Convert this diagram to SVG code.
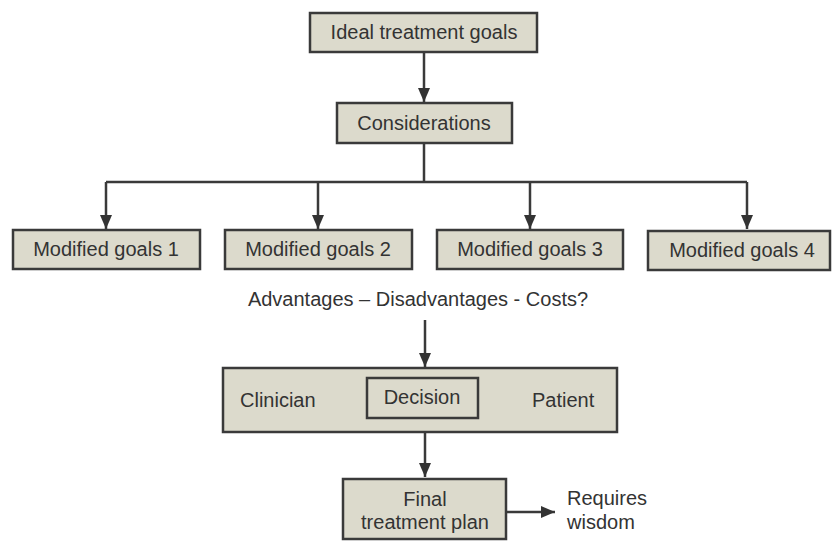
<svg xmlns="http://www.w3.org/2000/svg" width="832" height="541" viewBox="0 0 832 541">
<style>
.box{fill:#dcdacc;stroke:#3a3a3a;stroke-width:2.5}
.inner{fill:none;stroke:#3a3a3a;stroke-width:2.5}
.t{font-family:"Liberation Sans",Arial,sans-serif;font-size:20px;fill:#333}
.c{text-anchor:middle}
.ln{fill:none;stroke:#3a3a3a;stroke-width:2.5}
</style>
<defs>
<marker id="ah" viewBox="0 0 14 12" refX="14" refY="6" markerWidth="14" markerHeight="12" markerUnits="userSpaceOnUse" orient="auto">
<path d="M0,0 L14,6 L0,12 z" fill="#333"/>
</marker>
</defs>
<rect width="832" height="541" fill="#fff"/>
<g id="connectors">
<line class="ln" x1="424" y1="52" x2="424" y2="102" marker-end="url(#ah)"/>
<polyline class="ln" points="424,143 424,182"/>
<polyline class="ln" points="106,182 747,182"/>
<line class="ln" x1="106" y1="182" x2="106" y2="229" marker-end="url(#ah)"/>
<line class="ln" x1="318" y1="182" x2="318" y2="229" marker-end="url(#ah)"/>
<line class="ln" x1="530" y1="182" x2="530" y2="229" marker-end="url(#ah)"/>
<line class="ln" x1="747" y1="182" x2="747" y2="229" marker-end="url(#ah)"/>
<line class="ln" x1="425" y1="320" x2="425" y2="367" marker-end="url(#ah)"/>
<line class="ln" x1="425" y1="432" x2="425" y2="477" marker-end="url(#ah)"/>
<line class="ln" x1="506" y1="512" x2="555" y2="512" marker-end="url(#ah)"/>
</g>
<g id="ideal">
<rect class="box" x="310" y="13" width="227" height="39"/>
<text class="t c" x="424" y="39">Ideal treatment goals</text>
</g>
<g id="considerations">
<rect class="box" x="337" y="103" width="175" height="40"/>
<text class="t c" x="424" y="130">Considerations</text>
</g>
<g id="mod1">
<rect class="box" x="13" y="230" width="187" height="39"/>
<text class="t c" x="106" y="256">Modified goals 1</text>
</g>
<g id="mod2">
<rect class="box" x="225" y="230" width="187" height="39"/>
<text class="t c" x="318" y="256">Modified goals 2</text>
</g>
<g id="mod3">
<rect class="box" x="437" y="230" width="186" height="39"/>
<text class="t c" x="530" y="256">Modified goals 3</text>
</g>
<g id="mod4">
<rect class="box" x="648" y="231" width="182" height="39"/>
<text class="t c" x="742" y="257">Modified goals 4</text>
</g>
<g id="advantages">
<text class="t c" x="418" y="306">Advantages – Disadvantages - Costs?</text>
</g>
<g id="decision-panel">
<rect class="box" x="223" y="368" width="394" height="64"/>
<text class="t" x="240" y="407">Clinician</text>
<rect class="inner" x="367" y="378" width="111" height="40"/>
<text class="t c" x="422" y="404">Decision</text>
<text class="t" x="532" y="407">Patient</text>
</g>
<g id="final">
<rect class="box" x="343" y="479" width="163" height="60"/>
<text class="t c" x="425" y="506">Final</text>
<text class="t c" x="425" y="529">treatment plan</text>
</g>
<g id="wisdom">
<text class="t" x="567" y="505">Requires</text>
<text class="t" x="567" y="529">wisdom</text>
</g>
</svg>
